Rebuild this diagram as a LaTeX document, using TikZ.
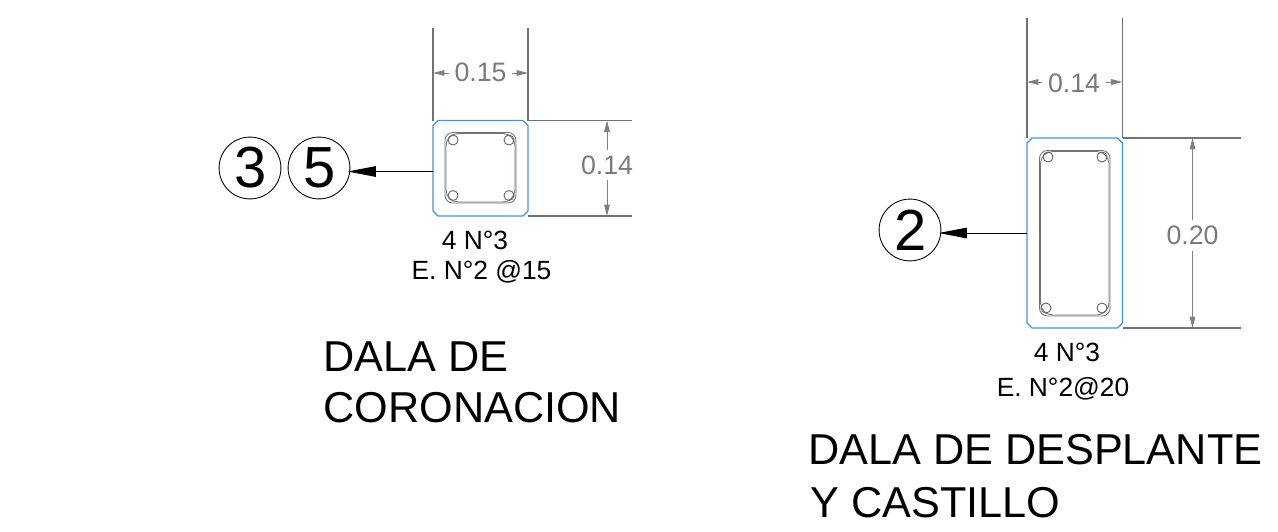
\documentclass[tikz,border=0pt]{standalone}
\usepackage{fontspec}
\setmainfont{Liberation Sans}
\usetikzlibrary{arrows.meta}
\definecolor{cadblue}{RGB}{66,146,232}
\tikzset{
  concrete/.style={draw=cadblue,line width=.7pt},
  stirrup/.style={draw=black!55,line width=.5pt,rounded corners=4.5pt},
  rebar/.style={draw=black!62,line width=.5pt},
  extline/.style={draw=black!55,line width=.6pt},
  dimline/.style={draw=black!50,line width=.55pt,-{Triangle[length=6.5pt,width=3.2pt]}},
  leader/.style={draw=black,line width=.55pt,shorten >=-1.5pt,-{Triangle[length=16pt,width=6pt]}},
  dimtext/.style={text=black!52,font=\fontsize{15.2}{17}\selectfont,inner sep=3.2pt},
  bubble/.style={circle,draw=black,line width=.5pt,minimum size=35.2pt,inner sep=0pt,font=\fontsize{33}{35}\selectfont},
  barnote/.style={font=\fontsize{15}{17}\selectfont,inner sep=0pt},
  sectitle/.style={anchor=base west,font=\fontsize{24.6}{27}\selectfont,inner sep=0pt},
}
\begin{document}
\begin{tikzpicture}[x=.02cm,y=-.02cm]
\useasboundingbox (0,0) rectangle (1278,531);

% dala de coronacion
\draw[concrete] (438,120.5) -- (523,120.5) -- (528,125.5) -- (528,211) -- (523,216) -- (438,216) -- (433,211) -- (433,125.5) -- cycle;
\draw[stirrup] (445,132.5) rectangle (516,203);
\draw[stirrup,rounded corners=7pt] (446,133.5) rectangle (515,202);
\draw[rebar] (453,140) circle (5);
\draw[rebar] (509,140) circle (5);
\draw[rebar] (453,195.5) circle (5);
\draw[rebar] (509,195.5) circle (5);

\draw[extline] (433,28) -- (433,120.5);
\draw[extline] (528,28) -- (528,120.5);
\draw[extline] (528,120.5) -- (632,120.5);
\draw[extline] (528,216) -- (632,216);

\coordinate (widthA) at (433,73);
\coordinate (widthB) at (528,73);
\node[dimtext] (widthA text) at (480.5,72) {0.15};
\draw[dimline] (widthA text.west |- widthA) -- (widthA);
\draw[dimline] (widthA text.east |- widthB) -- (widthB);
\coordinate (heightA) at (607,120.5);
\coordinate (heightB) at (607,216);
\node[dimtext] (heightA text) at (607,165) {0.14};
\draw[dimline] (heightA text) -- (heightA);
\draw[dimline] (heightA text) -- (heightB);

\node[bubble] (three) at (250,168) {\kern1pt3};
\node[bubble] (five) at (319,168) {\kern1pt5};
\coordinate (leadA) at (433,171.5);
\draw[leader] (leadA) -- (leadA -| five.east);

\node[barnote] (barsA) at (475,240) {4 N°3};
\node[barnote] (tiesA) at (481.5,272) {E. N°2 @15};
\node[sectitle] (titleA) at (323,371) {DALA DE};
\node[sectitle] (titleB) at (323,422) {CORONACION};

% dala de desplante
\draw[concrete] (1032,138) -- (1117.5,138) -- (1122.5,143) -- (1122.5,323) -- (1117.5,328) -- (1032,328) -- (1027,323) -- (1027,143) -- cycle;
\draw[stirrup] (1039.5,150.5) rectangle (1110,316);
\draw[stirrup,rounded corners=7pt] (1040.5,151.5) rectangle (1109,315);
\draw[rebar] (1048,157) circle (5);
\draw[rebar] (1102,157) circle (5);
\draw[rebar] (1046,308) circle (5);
\draw[rebar] (1102,308) circle (5);

\draw[extline] (1027,18) -- (1027,138);
\draw[extline] (1122.5,18) -- (1122.5,138);
\draw[extline] (1122.5,138) -- (1241,138);
\draw[extline] (1122.5,328) -- (1241,328);

\coordinate (widthC) at (1027,82);
\coordinate (widthD) at (1122.5,82);
\node[dimtext] (widthC text) at (1074,83) {0.14};
\draw[dimline] (widthC text.west |- widthC) -- (widthC);
\draw[dimline] (widthC text.east |- widthD) -- (widthD);
\coordinate (heightC) at (1192.5,138);
\coordinate (heightD) at (1192.5,328);
\node[dimtext] (heightC text) at (1192.5,235.5) {0.20};
\draw[dimline] (heightC text) -- (heightC);
\draw[dimline] (heightC text) -- (heightD);

\node[bubble] (two) at (910,230) {\kern1pt2};
\coordinate (leadB) at (1027,233);
\draw[leader] (leadB) -- (leadB -| two.east);

\node[barnote] (barsB) at (1067,352) {4 N°3};
\node[barnote] (tiesB) at (1063,389) {E. N°2@20};
\node[sectitle] (titleC) at (808,464.5) {DALA DE DESPLANTE};
\node[sectitle] (titleD) at (810,517) {Y CASTILLO};

\end{tikzpicture}
\end{document}
